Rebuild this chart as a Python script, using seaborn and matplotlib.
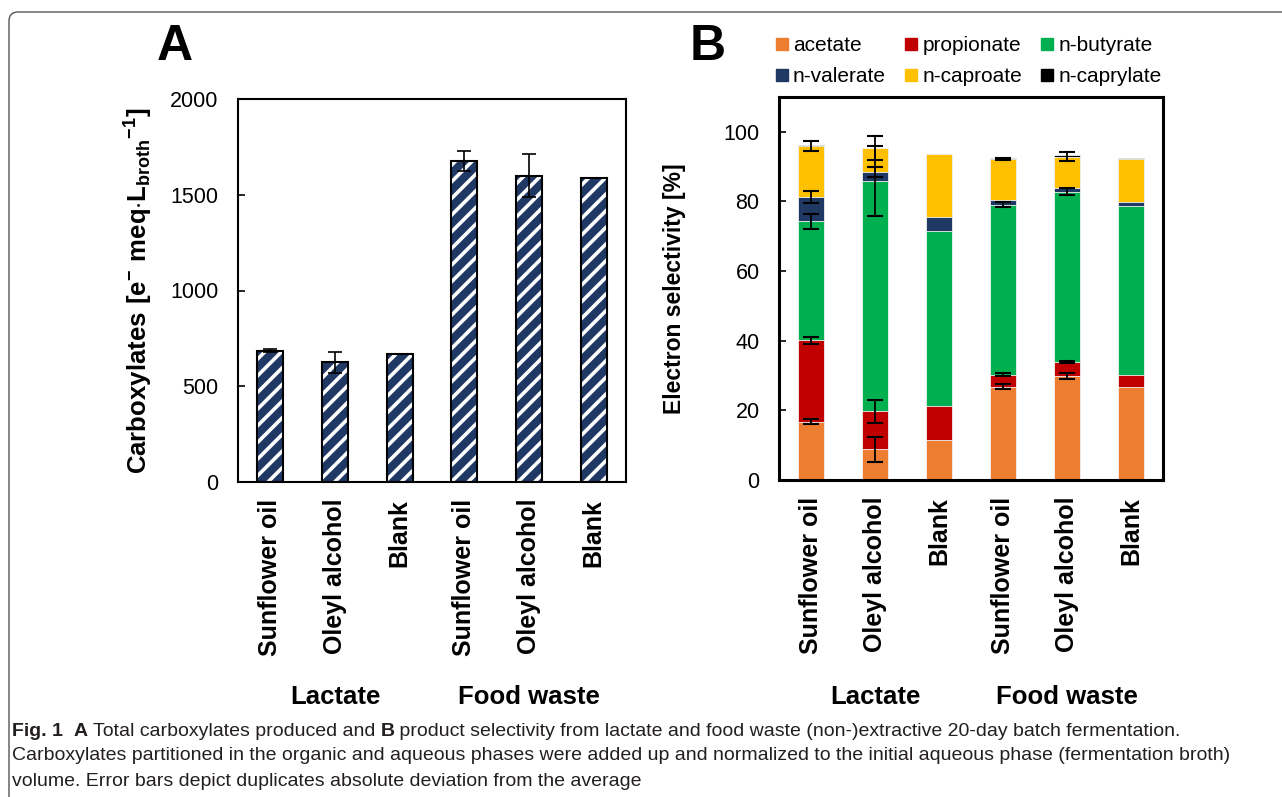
import numpy as np
import pandas as pd
import matplotlib
import matplotlib.pyplot as plt
import matplotlib.transforms as mtransforms
from matplotlib.patches import FancyBboxPatch
from matplotlib.lines import Line2D
import seaborn as sns

# =========================
# Data
# =========================
categories = ["Sunflower oil", "Oleyl alcohol", "Blank",
              "Sunflower oil ", "Oleyl alcohol ", "Blank "]
tick_labels = ["Sunflower oil", "Oleyl alcohol", "Blank",
               "Sunflower oil", "Oleyl alcohol", "Blank"]
groups = ["Lactate", "Food waste"]

# Panel A: total carboxylates [e- meq / L broth]
total_carbox = [686, 625, 668, 1676, 1600, 1589]
total_err = [6, 55, 0, 50, 113, 0]

# Panel B: electron selectivity [%]
acetate = [16.8, 8.8, 11.5, 26.8, 29.8, 26.8]
propionate = [23.3, 10.9, 9.8, 3.5, 4.1, 3.3]
butyrate = [34.2, 66.1, 50.1, 48.8, 48.9, 48.5]
valerate = [7.0, 2.7, 4.1, 1.3, 1.2, 1.3]
caproate = [14.6, 6.8, 18.0, 11.9, 8.9, 12.2]
caprylate = [0.3, 0.0, 0.0, 0.3, 0.4, 0.3]

acetate_err = [0.8, 3.6, 0, 0.7, 0.8, 0]
propionate_err = [0.9, 3.4, 0, 0.3, 0.2, 0]
butyrate_err = [2.2, 10.0, 0, 0.6, 1.0, 0]
valerate_err = [1.7, 1.35, 0, 0, 0, 0]
caproate_err = [1.4, 3.5, 0, 0.3, 1.4, 0]
caprylate_err = [0, 0, 0, 0, 0, 0]

acid_names = ["acetate", "propionate", "n-butyrate",
              "n-valerate", "n-caproate", "n-caprylate"]
acid_colors = ["#ED7D31", "#C00000", "#00B050", "#203864", "#FFC000", "#000000"]

# =========================
# Style
# =========================
sns.set_theme(style="white")
plt.rcParams["font.family"] = ["Liberation Sans", "DejaVu Sans"]
plt.rcParams["mathtext.fontset"] = "custom"
plt.rcParams["mathtext.bf"] = "Liberation Sans:bold"
plt.rcParams["mathtext.rm"] = "Liberation Sans"
plt.rcParams["hatch.linewidth"] = 2.6
for key in ["text.color", "axes.labelcolor", "xtick.color", "ytick.color"]:
    plt.rcParams[key] = "black"

NAVY = "#1F3864"
TICK_FS = 15.5
CAT_FS = 18

fig = plt.figure(figsize=(12.82, 7.97), dpi=100)
axA = fig.add_axes([238 / 1282, 1 - 482 / 797, 388 / 1282, 383 / 797])
axB = fig.add_axes([779 / 1282, 1 - 480 / 797, 384 / 1282, 383 / 797])

# =========================
# Panel A
# =========================
dfA = pd.DataFrame({"cat": categories, "value": total_carbox})
sns.barplot(data=dfA, x="cat", y="value", ax=axA, color=NAVY, saturation=1,
            width=0.4, errorbar=None, hatch="//", edgecolor="white", linewidth=0)
sns.barplot(data=dfA, x="cat", y="value", ax=axA, color="black", fill=False,
            width=0.4, errorbar=None, linewidth=1.5)
errA = np.array(total_err, dtype=float)
maskA = errA > 0
axA.errorbar(np.arange(len(categories))[maskA], np.array(total_carbox)[maskA],
             yerr=errA[maskA], fmt="none", ecolor="black", elinewidth=1.2,
             capsize=5, capthick=1.2)
axA.set_ylim(0, 2000)
axA.set_yticks([0, 500, 1000, 1500, 2000])
axA.set_xlabel("")
axA.set_ylabel(r"$\mathbf{Carboxylates\ [e^{-}\ meq{\cdot}L_{broth}{}^{-1}]}$",
               fontsize=18.5)
axA.yaxis.set_label_coords(-0.214, 0.5)

# =========================
# Panel B (stacked: draw cumulative totals from top to bottom)
# =========================
layers = [acetate, propionate, butyrate, valerate, caproate, caprylate]
layer_errs = [acetate_err, propionate_err, butyrate_err, valerate_err,
              caproate_err, caprylate_err]
cum = np.cumsum(np.array(layers), axis=0)

for i in range(len(layers) - 1, -1, -1):
    dfB = pd.DataFrame({"cat": categories, "value": cum[i]})
    sns.barplot(data=dfB, x="cat", y="value", ax=axB, color=acid_colors[i],
                saturation=1, width=0.4, errorbar=None,
                edgecolor="#f2f2f2", linewidth=0.6)

xpos = np.arange(len(categories))
for i in range(len(layers)):
    e = np.array(layer_errs[i], dtype=float)
    m = e > 0
    if m.any():
        axB.errorbar(xpos[m], cum[i][m], yerr=e[m], fmt="none", ecolor="black",
                     elinewidth=1.3, capsize=5.5, capthick=1.5)

axB.set_ylim(0, 110)
axB.set_yticks([0, 20, 40, 60, 80, 100])
axB.set_xlabel("")
axB.set_ylabel("Electron selectivity [%]", fontsize=16.5, fontweight="bold")
axB.yaxis.set_label_coords(-0.242, 0.5)

# legend: rows acetate/propionate/n-butyrate, n-valerate/n-caproate/n-caprylate
order = [0, 3, 1, 4, 2, 5]
handles = [Line2D([], [], marker="s", linestyle="none", markersize=8,
                  color=acid_colors[k]) for k in order]
fig.legend(handles, [acid_names[k] for k in order], ncol=3, frameon=False,
           loc="upper left", bbox_to_anchor=(767 / 1282, 1 - 28 / 797),
           fontsize=15, handlelength=0.6, handletextpad=0.25,
           columnspacing=0.9, labelspacing=0.55, borderaxespad=0)

# =========================
# Common axis formatting
# =========================
for ax, lw in [(axA, 1.5), (axB, 2.2)]:
    for s in ax.spines.values():
        s.set_visible(True)
        s.set_color("black")
        s.set_linewidth(lw)
    ax.set_xlim(-0.5, 5.5)
    ax.set_xticks(range(len(tick_labels)))
    ax.set_xticklabels(tick_labels, rotation=90, fontsize=CAT_FS,
                       fontweight="bold")
    ax.tick_params(axis="x", length=0, pad=12)
    ax.tick_params(axis="y", direction="in", length=5, width=1.2,
                   labelsize=TICK_FS, pad=14, left=True)
    # group labels under the categories
    trans = mtransforms.blended_transform_factory(ax.transData, fig.transFigure)
    ax.text(1, 1 - 697 / 797, groups[0], transform=trans, ha="center",
            va="center", fontsize=18.5, fontweight="bold")
    ax.text(4, 1 - 697 / 797, groups[1], transform=trans, ha="center",
            va="center", fontsize=18.5, fontweight="bold")

# panel letters
fig.text(175 / 1282, 1 - 47 / 797, "A", fontsize=36, fontweight="bold",
         ha="center", va="center")
fig.text(708 / 1282, 1 - 47 / 797, "B", fontsize=36, fontweight="bold",
         ha="center", va="center")

# =========================
# Caption (mixed bold / regular segments)
# =========================
cap_font = ["Liberation Sans Narrow", "Liberation Sans", "DejaVu Sans"]
CAP_FS = 14
caption_lines = [
    [("Fig. 1", "bold"), ("  ", "normal"), ("A", "bold"),
     (" Total carboxylates produced and ", "normal"), ("B", "bold"),
     (" product selectivity from lactate and food waste (non-)extractive "
      "20-day batch fermentation.", "normal")],
    [("Carboxylates partitioned in the organic and aqueous phases were added up "
      "and normalized to the initial aqueous phase (fermentation broth)", "normal")],
    [("volume. Error bars depict duplicates absolute deviation from the average",
      "normal")],
]
line_y = [731, 756, 781]
renderer = fig.canvas.get_renderer()
for segs, yy in zip(caption_lines, line_y):
    x = 12
    for txt, wt in segs:
        t = fig.text(x / 1282, 1 - yy / 797, txt, fontsize=CAP_FS, fontweight=wt,
                     family=cap_font, ha="left", va="center", color="#231f20")
        bb = t.get_window_extent(renderer=renderer)
        x += bb.width

# rounded frame around the figure (runs off right and bottom edges)
frame = FancyBboxPatch((9, -30), 1400, 797 - 12 + 30,
                       boxstyle="round,pad=0,rounding_size=9",
                       transform=mtransforms.IdentityTransform(),
                       facecolor="none", edgecolor="#555555", linewidth=1.0)
fig.patches.append(frame)

fig.savefig("out.png", dpi=100)
